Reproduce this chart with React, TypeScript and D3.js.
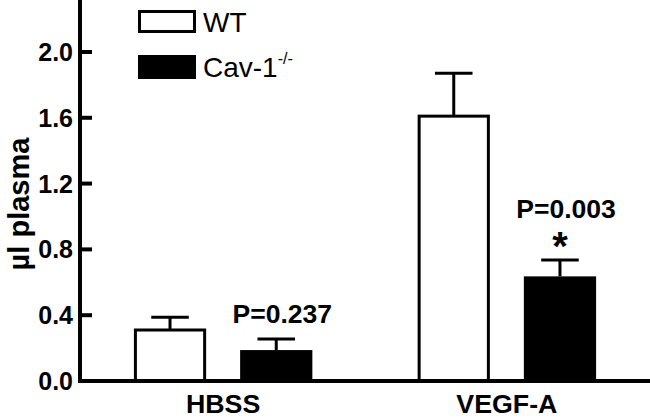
import React from 'react';
import * as d3 from 'd3';

const CATEGORIES = ['HBSS', 'VEGF-A'];
const GROUPS = ['WT', 'Cav-1'];
const WT_MEANS = [0.31, 1.61];
const WT_ERRORS = [0.078, 0.26];
const CAV_MEANS = [0.188, 0.636];
const CAV_ERRORS = [0.067, 0.1];
const P_LABELS = ['P=0.237', 'P=0.003'];
const STARS = ['', '*'];
const Y_TICKS = [0, 0.4, 0.8, 1.2, 1.6, 2.0];

const width = 650;
const height = 419;
const axisX = 80;
const baseY = 381;

const x = d3.scaleBand()
  .domain(CATEGORIES)
  .range([axisX, width])
  .paddingInner(0.371)
  .paddingOuter(0.19);

const xInner = d3.scaleBand()
  .domain(GROUPS)
  .range([0, x.bandwidth()])
  .paddingInner(0.32);

const y = d3.scaleLinear()
  .domain([0, 2.316])
  .range([baseY, 0]);

const rows = CATEGORIES.map((c, i) => ({
  cat: c,
  p: P_LABELS[i],
  star: STARS[i],
  bars: [
    { g: 'WT', v: WT_MEANS[i], e: WT_ERRORS[i] },
    { g: 'Cav-1', v: CAV_MEANS[i], e: CAV_ERRORS[i] },
  ],
}));

const font = 'Liberation Sans, Arial, Helvetica, sans-serif';

const Txt = ({ x0, y0, size, anchor = 'middle', bold = true, scale = 1, children }: any) => (
  <text
    transform={`translate(${x0},${y0}) scale(${scale},1)`}
    textAnchor={anchor}
    fontSize={size}
    fontWeight={bold ? 'bold' : 'normal'}
    fontFamily={font}
  >
    {children}
  </text>
);

export default function App() {
  return (
    <svg
      width={width}
      height={height}
      style={{ position: 'absolute', left: 0, top: 0, background: '#fff' }}
    >
      {/* bars + error bars */}
      {rows.map(r => r.bars.map(b => {
        const bx = x(r.cat)! + xInner(b.g)!;
        const bw = xInner.bandwidth();
        const cx = bx + bw / 2;
        const capW = bw * 0.52;
        return (
          <g key={r.cat + b.g}>
            <line x1={cx} x2={cx} y1={y(b.v)} y2={y(b.v + b.e)} stroke="#000" strokeWidth={3} />
            <line x1={cx - capW / 2} x2={cx + capW / 2} y1={y(b.v + b.e)} y2={y(b.v + b.e)} stroke="#000" strokeWidth={3} />
            <rect
              x={b.g === 'WT' ? bx + 1.5 : bx}
              y={y(b.v)}
              width={b.g === 'WT' ? bw - 3 : bw}
              height={baseY - y(b.v)}
              fill={b.g === 'WT' ? '#fff' : '#000'}
              stroke={b.g === 'WT' ? '#000' : 'none'}
              strokeWidth={3}
            />
          </g>
        );
      }))}

      {/* P values and stars above the Cav-1 bars */}
      {rows.map((r, i) => {
        const cav = r.bars[1];
        const cx = x(r.cat)! + xInner('Cav-1')! + xInner.bandwidth() / 2;
        const top = y(cav.v + cav.e);
        return (
          <g key={'p' + i}>
            {r.star && <Txt x0={cx} y0={top} size={40}>{r.star}</Txt>}
            <Txt x0={cx + 6} y0={top - (r.star ? 42 : 16)} size={25.5} scale={1.04}>{r.p}</Txt>
          </g>
        );
      })}

      {/* axes */}
      <line x1={axisX} x2={axisX} y1={0} y2={baseY + 2} stroke="#000" strokeWidth={4} />
      <line x1={axisX - 2} x2={width} y1={baseY} y2={baseY} stroke="#000" strokeWidth={4} />
      {Y_TICKS.map(t => (
        <g key={t}>
          <line x1={axisX} x2={axisX + 12} y1={y(t)} y2={y(t)} stroke="#000" strokeWidth={4} />
          <Txt x0={axisX - 7} y0={y(t) + 9} size={25} anchor="end">{d3.format('.1f')(t)}</Txt>
        </g>
      ))}
      {CATEGORIES.map(c => (
        <Txt key={c} x0={x(c)! + x.bandwidth() / 2} y0={413} size={25.5} scale={1.05}>{c}</Txt>
      ))}
      <text
        transform={`translate(29,204) rotate(-90)`}
        textAnchor="middle"
        fontSize={29}
        fontWeight="bold"
        fontFamily={font}
      >
        µl plasma
      </text>

      {/* legend */}
      <rect x={139.5} y={11.5} width={55} height={20} fill="#fff" stroke="#000" strokeWidth={3} />
      <rect x={138} y={55} width={58} height={24} fill="#000" />
      <Txt x0={203} y0={32} size={28} anchor="start" bold={false}>WT</Txt>
      <text x={203} y={77} fontSize={28} fontFamily={font}>
        Cav-1<tspan fontSize={16} dy={-13}>-/-</tspan>
      </text>
    </svg>
  );
}
